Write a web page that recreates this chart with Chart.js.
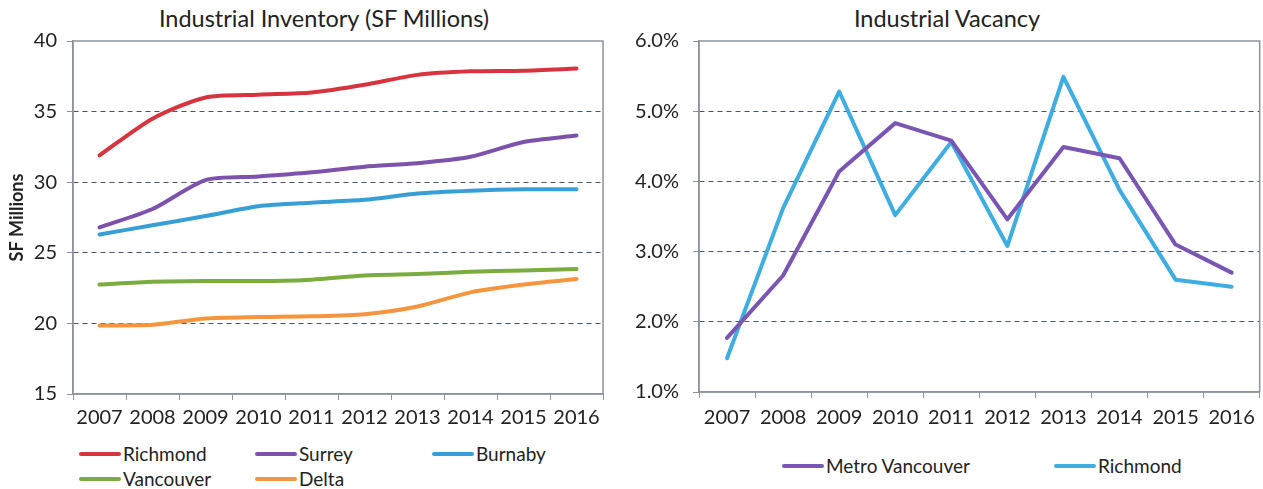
<!DOCTYPE html>
<html>
<head>
<meta charset="utf-8">
<script src="https://cdn.jsdelivr.net/npm/chart.js@4"></script>
<style>
  body { margin: 0; background: #fff; width: 1263px; height: 489px; position: relative; overflow: hidden; font-family: Lato, "Noto Sans", sans-serif; color: #222; }
  .box { position: absolute; top: 0; height: 440px; }
  .title { position: absolute; top: 3px; font-size: 23.5px; line-height: 30px; white-space: nowrap; transform: translateX(-50%); }
  .legend { position: absolute; display: grid; font-size: 19px; line-height: 23px; row-gap: 2px; }
  .legend .item { display: flex; align-items: center; white-space: nowrap; }
  .legend .swatch { width: 42px; height: 4px; margin-right: 2px; border-radius: 2px; }
</style>
</head>
<body>
<div class="title" style="left:324px">Industrial Inventory (SF Millions)</div>
<div class="title" style="left:947px">Industrial Vacancy</div>
<div class="box" style="left:0;width:625px"><canvas id="invChart"></canvas></div>
<div class="box" style="left:630px;width:633px"><canvas id="vacChart"></canvas></div>
<div id="invLegend" class="legend" style="left:79px;top:442px;grid-template-columns:176px 177px auto"></div>
<div id="vacLegend" class="legend" style="left:782px;top:454px;grid-template-columns:272px auto"></div>
<script>
const years = ["2007", "2008", "2009", "2010", "2011", "2012", "2013", "2014", "2015", "2016"];

// inventory, SF millions
const richmondInv = [31.9, 34.5, 36.0, 36.2, 36.35, 36.9, 37.6, 37.85, 37.9, 38.05];
const surreyInv = [26.8, 28.1, 30.15, 30.4, 30.7, 31.1, 31.35, 31.8, 32.85, 33.3];
const burnabyInv = [26.3, 26.95, 27.6, 28.3, 28.55, 28.75, 29.2, 29.4, 29.5, 29.5];
const vancouverInv = [22.75, 22.95, 23.0, 23.0, 23.1, 23.4, 23.5, 23.65, 23.75, 23.85];
const deltaInv = [19.85, 19.9, 20.35, 20.45, 20.5, 20.65, 21.2, 22.2, 22.75, 23.15];

// vacancy, percent
const metroVac = [1.77, 2.66, 4.14, 4.83, 4.58, 3.46, 4.49, 4.33, 3.1, 2.7];
const richmondVac = [1.48, 3.62, 5.28, 3.52, 4.56, 3.08, 5.49, 3.88, 2.6, 2.5];

const invTicks = [15, 20, 25, 30, 35, 40];
const vacTicks = [1, 2, 3, 4, 5, 6];

const gridColor = "rgb(72,82,104)";
const frameColor = "rgb(140,146,158)";
const textColor = "#222";
const fontFamily = "Lato, 'Noto Sans', sans-serif";

const framePlugin = {
  id: "frame",
  afterDraw(chart) {
    const a = chart.chartArea, c = chart.ctx;
    c.save();
    c.strokeStyle = frameColor;
    c.lineWidth = 1.5;
    c.strokeRect(a.left, a.top, a.right - a.left, a.bottom - a.top);
    c.restore();
  }
};

function lineSet(label, data, color, tension) {
  return {
    label: label, data: data,
    borderColor: color, backgroundColor: color,
    borderWidth: 4, pointRadius: 0, tension: tension,
    borderCapStyle: "round", borderJoinStyle: "round"
  };
}

function makeOptions(cfg) {
  return {
    responsive: true,
    maintainAspectRatio: false,
    animation: false,
    layout: { padding: { left: 0, right: cfg.padRight, top: 41, bottom: 0 } },
    plugins: {
      legend: { display: false },
      tooltip: { enabled: false }
    },
    scales: {
      x: {
        offset: true,
        afterFit: (s) => { s.height = cfg.xHeight; },
        grid: { offset: true, drawOnChartArea: false, drawTicks: true, tickLength: 6, tickColor: frameColor, color: frameColor },
        border: { color: frameColor, width: 1.5 },
        ticks: { color: textColor, padding: cfg.xPad, font: { family: fontFamily, size: 20 }, maxRotation: 0 }
      },
      y: {
        min: cfg.min, max: cfg.max,
        afterFit: (s) => { s.width = cfg.yWidth; },
        afterBuildTicks: (s) => { s.ticks = cfg.ticks.map(v => ({ value: v })); },
        title: cfg.yTitle ? {
          display: true, text: cfg.yTitle, color: textColor,
          font: { family: fontFamily, size: 18, weight: "bold" }, padding: { top: 6, bottom: 0 }
        } : { display: false },
        grid: {
          color: (ctx) => (ctx.tick && (ctx.tick.value === cfg.min || ctx.tick.value === cfg.max)) ? "rgba(0,0,0,0)" : gridColor,
          lineWidth: 1, tickLength: 6, tickColor: frameColor, tickBorderDash: []
        },
        border: { color: frameColor, width: 1.5, dash: [5, 4] },
        ticks: {
          color: textColor, padding: cfg.yPad, font: { family: fontFamily, size: 20 },
          callback: cfg.fmt
        }
      }
    }
  };
}

const invChart = new Chart(document.getElementById("invChart"), {
  type: "line",
  data: {
    labels: years,
    datasets: [
      lineSet("Richmond", richmondInv, "rgb(214,52,62)", 0.25),
      lineSet("Surrey", surreyInv, "rgb(124,82,172)", 0.25),
      lineSet("Burnaby", burnabyInv, "rgb(56,158,214)", 0.25),
      lineSet("Vancouver", vancouverInv, "rgb(122,172,64)", 0.25),
      lineSet("Delta", deltaInv, "rgb(245,150,62)", 0.25)
    ]
  },
  options: makeOptions({
    padRight: 22, xHeight: 46, xPad: 6, yWidth: 73, yPad: 10,
    min: 15, max: 40, ticks: invTicks, yTitle: "SF Millions", fmt: (v) => v
  }),
  plugins: [framePlugin]
});

const vacChart = new Chart(document.getElementById("vacChart"), {
  type: "line",
  data: {
    labels: years,
    datasets: [
      lineSet("Metro Vancouver", metroVac, "rgb(122,86,180)", 0),
      lineSet("Richmond", richmondVac, "rgb(62,174,226)", 0)
    ]
  },
  options: makeOptions({
    padRight: 3, xHeight: 48, xPad: 8, yWidth: 69, yPad: 14,
    min: 1, max: 6, ticks: vacTicks, yTitle: null, fmt: (v) => Number(v).toFixed(1) + "%"
  }),
  plugins: [framePlugin]
});

function buildLegend(chart, id) {
  const el = document.getElementById(id);
  chart.data.datasets.forEach((ds) => {
    const item = document.createElement("div");
    item.className = "item";
    const sw = document.createElement("span");
    sw.className = "swatch";
    sw.style.background = ds.borderColor;
    const tx = document.createElement("span");
    tx.textContent = ds.label;
    item.appendChild(sw);
    item.appendChild(tx);
    el.appendChild(item);
  });
}
buildLegend(invChart, "invLegend");
buildLegend(vacChart, "vacLegend");
</script>
</body>
</html>
